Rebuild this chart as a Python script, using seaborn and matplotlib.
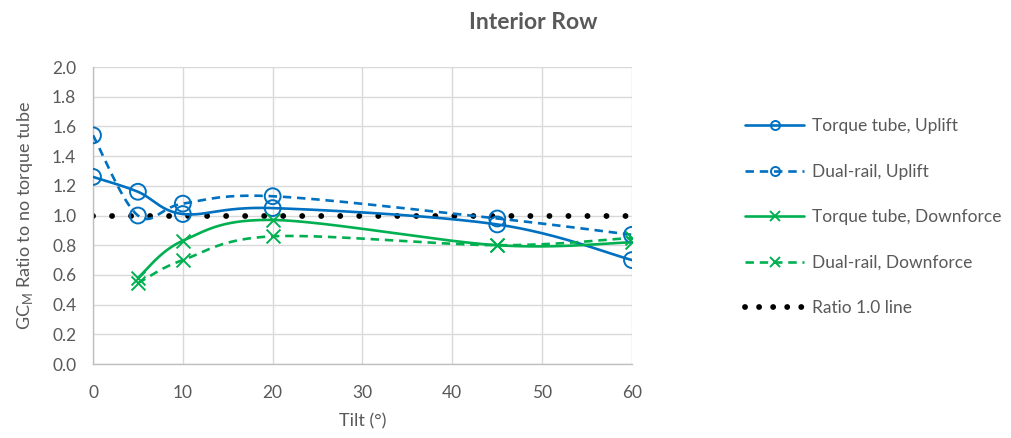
import numpy as np
import pandas as pd
import matplotlib
matplotlib.use("Agg")
import matplotlib.pyplot as plt
from matplotlib.lines import Line2D
import seaborn as sns

# ---- data ----
tilt_tt_up = [0, 5, 10, 20, 45, 60]
tt_uplift = [1.26, 1.16, 1.01, 1.05, 0.94, 0.70]
tilt_dr_up = [0, 5, 10, 20, 45, 60]
dr_uplift = [1.54, 1.00, 1.08, 1.13, 0.98, 0.87]
tilt_down = [5, 10, 20, 45, 60]
tt_down = [0.58, 0.83, 0.97, 0.80, 0.82]
dr_down = [0.545, 0.70, 0.86, 0.80, 0.85]
ratio_x = [0, 60]
ratio_y = [1.0, 1.0]
series_names = ["Torque tube, Uplift", "Dual-rail, Uplift",
                "Torque tube, Downforce", "Dual-rail, Downforce", "Ratio 1.0 line"]
x_ticks = [0, 10, 20, 30, 40, 50, 60]
y_ticks = [0.0, 0.2, 0.4, 0.6, 0.8, 1.0, 1.2, 1.4, 1.6, 1.8, 2.0]

BLUE = "#0070C0"
GREEN = "#00B050"
GRAY = "#595959"

sns.set_theme(style="whitegrid")
plt.rcParams["font.family"] = ["Lato", "DejaVu Sans"]


def smooth(xs, ys, n=40):
    """Excel-style smoothed line (Bezier with 1/6 tension) for drawing."""
    P = np.column_stack([xs, ys]).astype(float)
    out = []
    m = len(P)
    for i in range(m - 1):
        p0 = P[i - 1] if i > 0 else P[i]
        p1 = P[i]
        p2 = P[i + 1]
        p3 = P[i + 2] if i + 2 < m else P[i + 1]
        c1 = p1 + (p2 - p0) / 6.0
        c2 = p2 - (p3 - p1) / 6.0
        t = np.linspace(0, 1, n)[:, None]
        seg = ((1 - t) ** 3) * p1 + 3 * ((1 - t) ** 2) * t * c1 + 3 * (1 - t) * t ** 2 * c2 + t ** 3 * p2
        out.append(seg if i == 0 else seg[1:])
    arr = np.vstack(out)
    return arr[:, 0], arr[:, 1]


fig = plt.figure(figsize=(10.12, 4.38), dpi=100)
ax = fig.add_axes([0.0919, 0.1689, 0.5326, 0.6781])

dash = (0, (3.2, 2.2))
lw = 1.9

# ratio line
ax.plot(ratio_x, ratio_y, color="black", lw=4.2, linestyle=(0, (0.01, 3.25)),
        dash_capstyle="round", zorder=2)

series = [
    (tilt_tt_up, tt_uplift, BLUE, "-", "o"),
    (tilt_dr_up, dr_uplift, BLUE, dash, "o"),
    (tilt_down, tt_down, GREEN, "-", "x"),
    (tilt_down, dr_down, GREEN, dash, "x"),
]
for xs, ys, c, ls, mk in series:
    sx, sy = smooth(xs, ys)
    ax.plot(sx, sy, color=c, lw=lw, linestyle=ls, zorder=3)
    df = pd.DataFrame({"x": xs, "y": ys})
    if mk == "o":
        sns.scatterplot(data=df, x="x", y="y", ax=ax, marker="o", s=130,
                        facecolor="none", edgecolor=c, linewidth=1.4, zorder=4, legend=False)
    else:
        sns.scatterplot(data=df, x="x", y="y", ax=ax, marker="x", s=100,
                        color=c, linewidth=1.4, zorder=4, legend=False)

ax.set_xlim(0, 60)
ax.set_ylim(0, 2.0)
ax.set_xticks(x_ticks)
ax.set_yticks(y_ticks)
ax.set_yticklabels([f"{v:.1f}" for v in y_ticks])
ax.tick_params(axis="y", colors=GRAY, labelsize=12.5, length=0, pad=12)
ax.tick_params(axis="x", colors=GRAY, labelsize=12.5, length=0, pad=15)
ax.grid(True, color="#D9D9D9", lw=1.0)
ax.set_facecolor("white")
for s in ["top", "right"]:
    ax.spines[s].set_visible(False)
for s in ["left", "bottom"]:
    ax.spines[s].set_color("#BFBFBF")
    ax.spines[s].set_linewidth(1.0)
ax.set_axisbelow(True)

ax.set_xlabel("Tilt (°)", color=GRAY, fontsize=13, labelpad=9)
ax.set_ylabel(r"GC$_\mathregular{M}$ Ratio to no torque tube", color=GRAY, fontsize=13, labelpad=12)

fig.text(0.527, 0.948, "Interior Row", ha="center", va="center",
         fontsize=16.5, fontweight="bold", color=GRAY)

handles = [
    Line2D([], [], color=BLUE, lw=lw, marker="o", mfc="none", mec=BLUE, ms=6.5, mew=1.4),
    Line2D([], [], color=BLUE, lw=lw, linestyle=dash, marker="o", mfc="none", mec=BLUE, ms=6.5, mew=1.4),
    Line2D([], [], color=GREEN, lw=lw, marker="x", mec=GREEN, ms=6.5, mew=1.4),
    Line2D([], [], color=GREEN, lw=lw, linestyle=dash, marker="x", mec=GREEN, ms=6.5, mew=1.4),
    Line2D([], [], color="black", lw=4.2, linestyle=(0, (0.01, 2.4)), dash_capstyle="round"),
]
leg = fig.legend(handles, series_names, loc="upper left", bbox_to_anchor=(0.721, 0.766),
                 frameon=False, fontsize=12.5, labelcolor=GRAY, handlelength=3.4,
                 labelspacing=1.7, handletextpad=0.45)

fig.savefig("out.png", dpi=100)
